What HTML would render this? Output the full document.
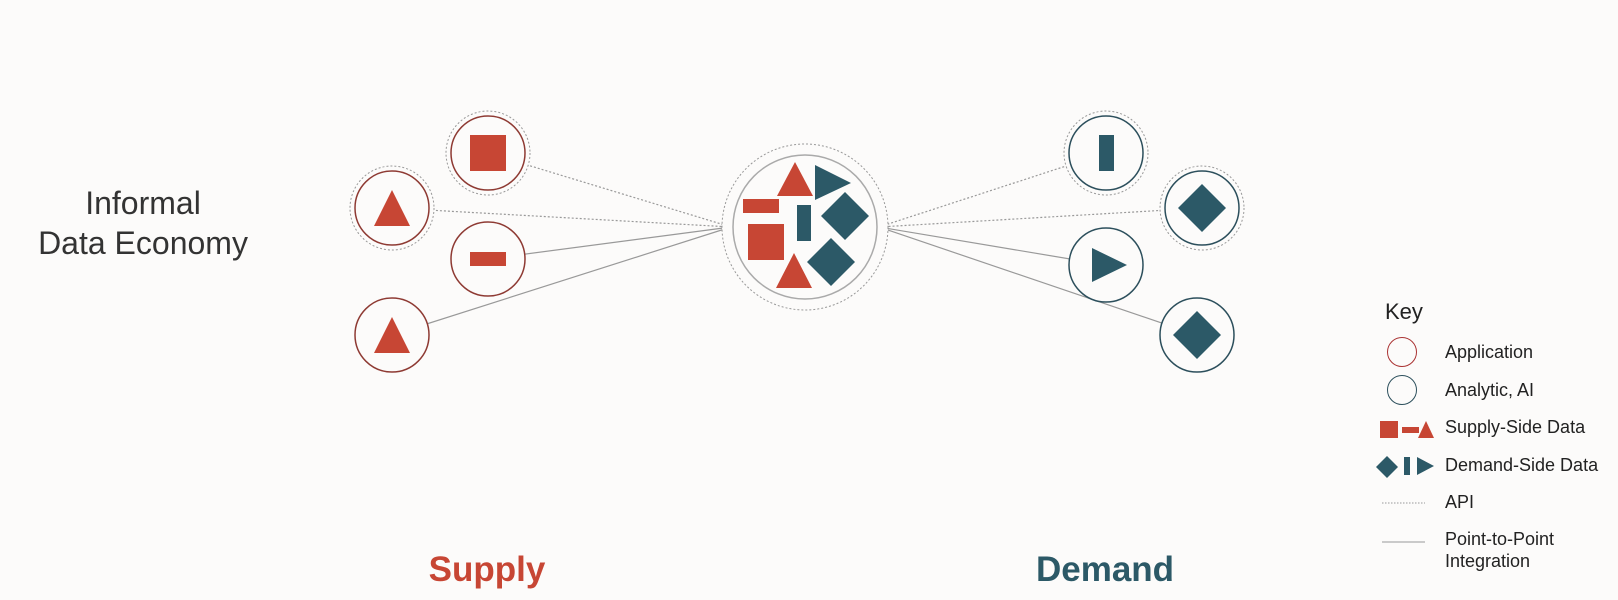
<!DOCTYPE html>
<html><head><style>
body{margin:0;background:#fcfbfa;}
svg{display:block}
text{font-family:"Liberation Sans",sans-serif;}
</style></head><body>
<svg width="1618" height="600" viewBox="0 0 1618 600" xmlns="http://www.w3.org/2000/svg">
<rect width="1618" height="600" fill="#fcfbfa"/>
<g stroke="#999" stroke-width="1.2" fill="none">
<line x1="488" y1="153" x2="731" y2="227" stroke-dasharray="2,2"/>
<line x1="392" y1="208" x2="731" y2="227" stroke-dasharray="2,2"/>
<line x1="488" y1="259" x2="731" y2="227"/>
<line x1="392" y1="335" x2="731" y2="227"/>
<line x1="1106" y1="153" x2="879" y2="227" stroke-dasharray="2,2"/>
<line x1="1202" y1="208" x2="879" y2="227" stroke-dasharray="2,2"/>
<line x1="1106" y1="265" x2="879" y2="227"/>
<line x1="1197" y1="335" x2="879" y2="227"/>
</g>
<g stroke="#999" stroke-width="1" fill="#fcfbfa" stroke-dasharray="2,2">
<circle cx="488" cy="153" r="42"/>
<circle cx="392" cy="208" r="42"/>
<circle cx="805" cy="227" r="83"/>
<circle cx="1106" cy="153" r="42"/>
<circle cx="1202" cy="208" r="42"/>
</g>
<g fill="#fcfbfa" stroke-width="1.5">
<circle cx="488" cy="153" r="37" stroke="#8e3a33"/>
<circle cx="392" cy="208" r="37" stroke="#8e3a33"/>
<circle cx="488" cy="259" r="37" stroke="#8e3a33"/>
<circle cx="392" cy="335" r="37" stroke="#8e3a33"/>
<circle cx="805" cy="227" r="72" stroke="#aaa"/>
<circle cx="1106" cy="153" r="37" stroke="#2c4f5c"/>
<circle cx="1202" cy="208" r="37" stroke="#2c4f5c"/>
<circle cx="1106" cy="265" r="37" stroke="#2c4f5c"/>
<circle cx="1197" cy="335" r="37" stroke="#2c4f5c"/>
</g>
<g fill="#c74634">
<rect x="470" y="135" width="36" height="36"/>
<polygon points="392,190 410,226 374,226"/>
<rect x="470" y="252" width="36" height="14"/>
<polygon points="392,317 410,353 374,353"/>
<polygon points="795,162 813,196 777,196"/>
<rect x="743" y="199" width="36" height="14"/>
<rect x="748" y="224" width="36" height="36"/>
<polygon points="794,253 812,288 776,288"/>
<rect x="1380" y="421" width="18" height="17"/>
<rect x="1402" y="427" width="17" height="6"/>
<polygon points="1426,421 1434,438 1418,438"/>
</g>
<g fill="#2c5967">
<polygon points="815,165 851,183 815,200"/>
<rect x="797" y="205" width="14" height="36"/>
<polygon points="845,192 869,216 845,240 821,216"/>
<polygon points="831,238 855,262 831,286 807,262"/>
<rect x="1099" y="135" width="15" height="36"/>
<polygon points="1202,184 1226,208 1202,232 1178,208"/>
<polygon points="1092,248 1127,265 1092,282"/>
<polygon points="1197,311 1221,335 1197,359 1173,335"/>
<polygon points="1387,456 1398,467 1387,478 1376,467"/>
<rect x="1404" y="457" width="6" height="18"/>
<polygon points="1417,457 1434,466 1417,475"/>
</g>
<circle cx="1402" cy="352" r="14.5" fill="none" stroke="#a33" stroke-width="1"/>
<circle cx="1402" cy="390" r="14.5" fill="none" stroke="#2c4f5c" stroke-width="1"/>
<line x1="1382" y1="503" x2="1425" y2="503" stroke="#999" stroke-dasharray="1.5,1.5"/>
<line x1="1382" y1="542" x2="1425" y2="542" stroke="#999"/>
<g fill="#222" font-size="18">
<text x="1445" y="358">Application</text>
<text x="1445" y="396">Analytic, AI</text>
<text x="1445" y="433">Supply-Side Data</text>
<text x="1445" y="471">Demand-Side Data</text>
<text x="1445" y="508">API</text>
<text x="1445" y="545">Point-to-Point</text>
<text x="1445" y="567">Integration</text>
<text x="1385" y="319" font-size="22">Key</text>
</g>
<g fill="#333" font-size="32" text-anchor="middle">
<text x="143" y="214">Informal</text>
<text x="143" y="254">Data Economy</text>
</g>
<text x="487" y="581" font-size="35" font-weight="bold" fill="#c74634" text-anchor="middle">Supply</text>
<text x="1105" y="581" font-size="35" font-weight="bold" fill="#2c5967" text-anchor="middle">Demand</text>
</svg>
</body></html>
